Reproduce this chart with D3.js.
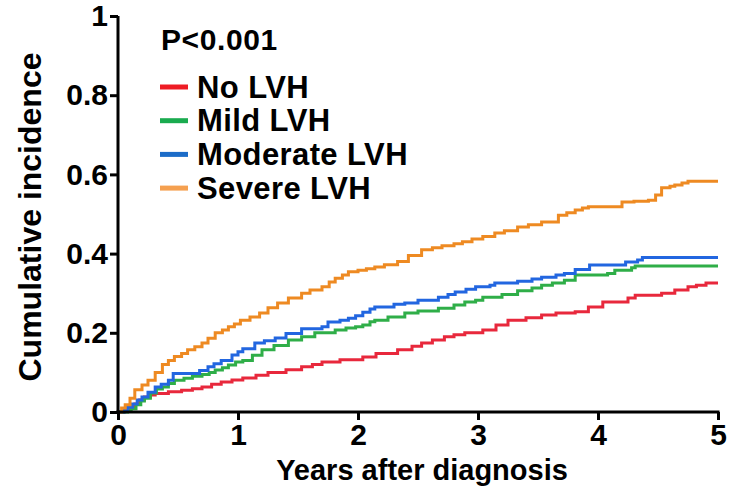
<!DOCTYPE html>
<html><head><meta charset="utf-8">
<script src="https://cdn.jsdelivr.net/npm/d3@7"></script>
<style>html,body{margin:0;padding:0;background:#fff;}svg{display:block;}</style>
</head><body>
<svg id="chart" width="729" height="490"></svg>
<script>
// ---- data ----
const seriesNames = ["No LVH", "Mild LVH", "Moderate LVH", "Severe LVH"];
const xTicks = [0, 1, 2, 3, 4, 5];
const yTicks = [0, 0.2, 0.4, 0.6, 0.8, 1];
const yTickLabels = ["0", "0.2", "0.4", "0.6", "0.8", "1"];
const pValueText = "P<0.001";
const xTitle = "Years after diagnosis";
const yTitle = "Cumulative incidence";

const noLVH = [[0,0],[0.05,0.005],[0.09,0.012],[0.14,0.02],[0.18,0.03],[0.22,0.038],[0.27,0.043],[0.31,0.047],[0.42,0.051],[0.53,0.055],[0.62,0.059],[0.7,0.063],[0.78,0.07],[0.86,0.076],[0.95,0.081],[1.04,0.086],[1.15,0.093],[1.25,0.1],[1.4,0.107],[1.53,0.114],[1.62,0.12],[1.7,0.126],[1.85,0.132],[2.04,0.139],[2.15,0.148],[2.33,0.157],[2.45,0.166],[2.53,0.174],[2.62,0.182],[2.72,0.19],[2.8,0.195],[2.89,0.2],[3.04,0.207],[3.15,0.22],[3.25,0.232],[3.4,0.238],[3.53,0.245],[3.65,0.25],[3.81,0.253],[3.92,0.265],[4.04,0.278],[4.25,0.288],[4.31,0.295],[4.53,0.3],[4.64,0.308],[4.75,0.316],[4.82,0.32],[4.9,0.326],[5.0,0.326]];
const mildLVH = [[0,0],[0.08,0.003],[0.11,0.008],[0.15,0.018],[0.19,0.028],[0.22,0.035],[0.27,0.048],[0.32,0.058],[0.37,0.063],[0.42,0.072],[0.47,0.08],[0.55,0.085],[0.62,0.09],[0.7,0.095],[0.76,0.1],[0.81,0.106],[0.87,0.112],[0.92,0.119],[0.98,0.126],[1.04,0.13],[1.12,0.143],[1.2,0.157],[1.3,0.168],[1.42,0.182],[1.53,0.19],[1.64,0.2],[1.81,0.207],[1.9,0.212],[1.98,0.215],[2.04,0.22],[2.1,0.228],[2.14,0.232],[2.25,0.24],[2.39,0.25],[2.5,0.255],[2.67,0.262],[2.8,0.27],[2.89,0.278],[2.98,0.282],[3.04,0.29],[3.2,0.297],[3.33,0.306],[3.45,0.313],[3.53,0.32],[3.62,0.326],[3.72,0.333],[3.81,0.346],[4.08,0.35],[4.14,0.358],[4.28,0.364],[4.31,0.369],[5.0,0.369]];
const moderateLVH = [[0,0],[0.05,0.005],[0.08,0.012],[0.12,0.02],[0.16,0.03],[0.2,0.038],[0.25,0.05],[0.31,0.063],[0.36,0.07],[0.42,0.08],[0.46,0.097],[0.68,0.105],[0.75,0.114],[0.8,0.122],[0.86,0.13],[0.95,0.144],[1.0,0.152],[1.04,0.16],[1.14,0.174],[1.22,0.18],[1.31,0.187],[1.4,0.198],[1.53,0.21],[1.7,0.215],[1.75,0.227],[1.85,0.232],[1.92,0.237],[1.98,0.243],[2.04,0.252],[2.1,0.26],[2.14,0.265],[2.3,0.272],[2.39,0.275],[2.5,0.282],[2.67,0.29],[2.75,0.297],[2.81,0.303],[2.9,0.31],[2.98,0.316],[3.1,0.32],[3.14,0.326],[3.33,0.33],[3.45,0.336],[3.53,0.34],[3.65,0.346],[3.72,0.35],[3.81,0.36],[3.93,0.371],[4.23,0.379],[4.33,0.384],[4.37,0.39],[5.0,0.39]];
const severeLVH = [[0,0],[0.03,0.01],[0.06,0.018],[0.1,0.035],[0.14,0.056],[0.2,0.068],[0.25,0.08],[0.31,0.1],[0.37,0.12],[0.42,0.13],[0.47,0.14],[0.53,0.148],[0.58,0.157],[0.64,0.165],[0.7,0.174],[0.75,0.186],[0.81,0.2],[0.87,0.207],[0.92,0.215],[0.97,0.222],[1.02,0.232],[1.1,0.24],[1.18,0.25],[1.25,0.263],[1.33,0.275],[1.42,0.288],[1.53,0.3],[1.6,0.308],[1.7,0.316],[1.76,0.328],[1.81,0.338],[1.87,0.346],[1.92,0.354],[2.0,0.358],[2.07,0.362],[2.14,0.366],[2.22,0.372],[2.33,0.38],[2.42,0.395],[2.53,0.41],[2.62,0.415],[2.7,0.42],[2.8,0.425],[2.87,0.43],[2.95,0.437],[3.04,0.443],[3.14,0.452],[3.22,0.458],[3.33,0.467],[3.42,0.473],[3.53,0.48],[3.67,0.497],[3.74,0.503],[3.81,0.51],[3.87,0.515],[3.92,0.518],[4.2,0.53],[4.3,0.532],[4.42,0.535],[4.48,0.548],[4.53,0.566],[4.6,0.57],[4.64,0.573],[4.7,0.578],[4.75,0.583],[5.0,0.583]];

const allSeries = [noLVH, mildLVH, moderateLVH, severeLVH];
const lineColors = ["#e8283c", "#2fae48", "#2266e0", "#ee8a22"];
const legendColors = ["#ee1c24", "#1aab4f", "#1c6cc8", "#f5a050"];

// ---- drawing ----
const svg = d3.select("#chart");
const FONT = "'Liberation Sans', Arial, Helvetica, sans-serif";
const x = d3.scaleLinear().domain([0, 5]).range([118, 718]);
const y = d3.scaleLinear().domain([0, 1]).range([412, 16]);

// curves
const line = d3.line().x(d => x(d[0])).y(d => y(d[1])).curve(d3.curveStepAfter);
svg.append("g").selectAll("path").data(allSeries).join("path")
  .attr("d", line)
  .attr("fill", "none")
  .attr("stroke", (d, i) => lineColors[i])
  .attr("stroke-width", 3)
  .attr("stroke-linejoin", "miter");

// axes
const xAxis = svg.append("g").attr("transform", `translate(0,${y(0)})`)
  .call(d3.axisBottom(x).tickValues(xTicks).tickFormat(d3.format("d")).tickSizeOuter(0).tickSize(8).tickPadding(4));
const yAxis = svg.append("g").attr("transform", `translate(${x(0)},0)`)
  .call(d3.axisLeft(y).tickValues(yTicks).tickFormat((d, i) => yTickLabels[i]).tickSizeOuter(0).tickSize(8).tickPadding(2));
[xAxis, yAxis].forEach(g => {
  g.select(".domain").attr("stroke", "#000").attr("stroke-width", 3);
  g.selectAll(".tick line").attr("stroke", "#000").attr("stroke-width", 3);
  g.selectAll(".tick text").attr("fill", "#000").attr("font-family", FONT)
    .attr("font-weight", "bold").attr("font-size", 30);
});
xAxis.select(".domain").attr("d", `M${x(0) - 1.5},0H${x(5) + 1.5}`);
yAxis.select(".domain").attr("d", `M0,${y(1)}V${y(0) + 1.5}`);

// axis titles
svg.append("text").text(xTitle)
  .attr("x", 422).attr("y", 480).attr("text-anchor", "middle")
  .attr("font-family", FONT).attr("font-weight", "bold").attr("font-size", 29).attr("fill", "#000");
svg.append("text").text(yTitle)
  .attr("transform", "translate(41,217) rotate(-90)").attr("text-anchor", "middle")
  .attr("font-family", FONT).attr("font-weight", "bold").attr("font-size", 32).attr("fill", "#000");

// p-value and legend
svg.append("text").text(pValueText)
  .attr("x", 161).attr("y", 50).attr("letter-spacing", 0.6)
  .attr("font-family", FONT).attr("font-weight", "bold").attr("font-size", 30).attr("fill", "#000");
const leg = svg.append("g").selectAll("g").data(seriesNames).join("g")
  .attr("transform", (d, i) => `translate(160,${87 + i * 33.7})`);
leg.append("line").attr("x1", 0).attr("x2", 28).attr("y1", 0).attr("y2", 0)
  .attr("stroke", (d, i) => legendColors[i]).attr("stroke-width", 5);
leg.append("text").text(d => d)
  .attr("x", 37).attr("y", 10.5).attr("letter-spacing", 0.4)
  .attr("font-family", FONT).attr("font-weight", "bold").attr("font-size", 31).attr("fill", "#000");
</script>
</body></html>
